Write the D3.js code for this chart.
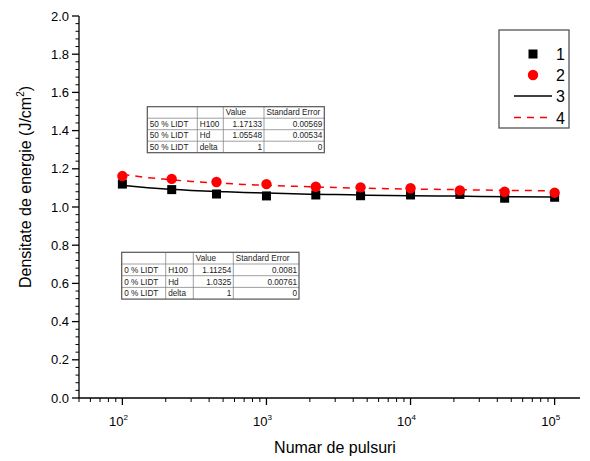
<!DOCTYPE html>
<html><head><meta charset="utf-8">
<script src="https://cdn.jsdelivr.net/npm/d3@7"></script>
<style>body{margin:0;background:#fff;} svg{display:block;font-family:Arial,"Liberation Sans",sans-serif;}</style>
</head><body><svg id="c" width="590" height="461"></svg>
<script>
// ---- data ----
const pulses = [100, 220, 450, 1000, 2200, 4500, 10000, 22000, 45000, 100000];
const series1 = [1.120, 1.091, 1.068, 1.058, 1.063, 1.059, 1.063, 1.066, 1.046, 1.051];
const series2 = [1.162, 1.147, 1.131, 1.120, 1.106, 1.103, 1.098, 1.087, 1.080, 1.075];
const fitN   = [100, 150, 200, 300, 500, 700, 1000, 2000, 3000, 5000, 10000, 20000, 50000, 100000];
const fit3   = [1.113, 1.101, 1.094, 1.087, 1.080, 1.076, 1.073, 1.067, 1.065, 1.062, 1.059, 1.057, 1.054, 1.053];
const fit4   = [1.171, 1.154, 1.145, 1.134, 1.124, 1.118, 1.113, 1.106, 1.102, 1.098, 1.094, 1.091, 1.087, 1.085];
const yTicks = [0, 0.2, 0.4, 0.6, 0.8, 1.0, 1.2, 1.4, 1.6, 1.8, 2.0];
const xTicks = [100, 1000, 10000, 100000];
const legendLabels = ["1", "2", "3", "4"];
const tableHeader = ["", "", "Value", "Standard Error"];
const table1Rows = [["50 % LIDT","H100","1.17133","0.00569"],["50 % LIDT","Hd","1.05548","0.00534"],["50 % LIDT","delta","1","0"]];
const table2Rows = [["0 % LIDT","H100","1.11254","0.0081"],["0 % LIDT","Hd","1.0325","0.00761"],["0 % LIDT","delta","1","0"]];

// ---- layout ----
const svg = d3.select("#c");
const pL = 79, pR = 580, pT = 16, pB = 398;
const x = d3.scaleLog().domain([50, 150000]).range([pL, pR]);
const y = d3.scaleLinear().domain([0, 2]).range([pB, pT]);

// minor ticks
const xMinor = [];
for (let d = 10; d <= 100000; d *= 10) for (let k = 2; k <= 9; k++) { const v = d * k; if (v >= 50 && v <= 150000) xMinor.push(v); }
const yMinor = d3.range(0, 2.0001, 0.04).filter(v => Math.abs(v*5 - Math.round(v*5)) > 1e-6);

const gx = svg.append("g").attr("transform", `translate(0,${pB})`);
gx.append("line").attr("x1", pL).attr("x2", pR).attr("stroke", "#000").attr("stroke-width", 1.3);
gx.selectAll(".mn").data(xMinor).join("line").attr("x1", d => x(d)).attr("x2", d => x(d)).attr("y1", 0).attr("y2", 4).attr("stroke", "#000").attr("stroke-width", 1);
gx.selectAll(".mj").data(xTicks).join("line").attr("x1", d => x(d)).attr("x2", d => x(d)).attr("y1", 0).attr("y2", 7).attr("stroke", "#000").attr("stroke-width", 1.3);
const xl = gx.selectAll(".xl").data(xTicks).join("text").attr("x", d => x(d) - 4).attr("y", 28).attr("text-anchor", "middle").attr("font-size", 13).attr("fill", "#000");
xl.append("tspan").text("10");
xl.append("tspan").attr("dy", -6).attr("font-size", 8).text(d => Math.round(Math.log10(d)));

const gy = svg.append("g");
gy.append("line").attr("x1", pL).attr("x2", pL).attr("y1", pT).attr("y2", pB).attr("stroke", "#000").attr("stroke-width", 1.3);
gy.selectAll(".mn").data(yMinor).join("line").attr("x1", pL - 3.5).attr("x2", pL).attr("y1", d => y(d)).attr("y2", d => y(d)).attr("stroke", "#000").attr("stroke-width", 1);
gy.selectAll(".mj").data(yTicks).join("line").attr("x1", pL - 7).attr("x2", pL).attr("y1", d => y(d)).attr("y2", d => y(d)).attr("stroke", "#000").attr("stroke-width", 1.3);
gy.selectAll(".yl").data(yTicks).join("text").attr("x", pL - 10).attr("y", d => y(d) + 4.5).attr("text-anchor", "end").attr("font-size", 13).attr("fill", "#000").text(d3.format(".1f"));

// axis titles
svg.append("text").attr("x", 335).attr("y", 453).attr("text-anchor", "middle").attr("font-size", 16).text("Numar de pulsuri");
const yt = svg.append("text").attr("transform", "translate(31,187) rotate(-90)").attr("text-anchor", "middle").attr("font-size", 16);
yt.append("tspan").text("Densitate de energie (J/cm");
yt.append("tspan").attr("dy", -7).attr("font-size", 10).text("2");
yt.append("tspan").attr("dy", 7).text(")");

// fit lines
const line = d3.line().x(d => x(d[0])).y(d => y(d[1])).curve(d3.curveMonotoneX);
svg.append("path").attr("d", line(fitN.map((n, i) => [n, fit3[i]]))).attr("fill", "none").attr("stroke", "#000").attr("stroke-width", 1.5);
svg.append("path").attr("d", line(fitN.map((n, i) => [n, fit4[i]]))).attr("fill", "none").attr("stroke", "#ff0000").attr("stroke-width", 1.5).attr("stroke-dasharray", "7,6");

// points
svg.selectAll(".sq").data(pulses).join("rect").attr("x", (d) => x(d) - 4.5).attr("y", (d, i) => y(series1[i]) - 4.5).attr("width", 9).attr("height", 9).attr("fill", "#000");
svg.selectAll(".ci").data(pulses).join("circle").attr("cx", d => x(d)).attr("cy", (d, i) => y(series2[i])).attr("r", 5.2).attr("fill", "#ff0000");

// legend
const lg = svg.append("g");
lg.append("rect").attr("x", 499).attr("y", 30).attr("width", 70).attr("height", 98).attr("fill", "#fff").attr("stroke", "#555").attr("stroke-width", 1.3);
lg.append("rect").attr("x", 528.5).attr("y", 49.5).attr("width", 9).attr("height", 9).attr("fill", "#000");
lg.append("circle").attr("cx", 533).attr("cy", 75).attr("r", 5.2).attr("fill", "#ff0000");
lg.append("line").attr("x1", 514).attr("x2", 552).attr("y1", 96).attr("y2", 96).attr("stroke", "#000").attr("stroke-width", 1.5);
lg.append("line").attr("x1", 514).attr("x2", 552).attr("y1", 117.5).attr("y2", 117.5).attr("stroke", "#ff0000").attr("stroke-width", 1.5).attr("stroke-dasharray", "7,6");
lg.selectAll(".lt").data(legendLabels).join("text").attr("x", 556).attr("y", (d, i) => 60 + i * 21.2).attr("font-size", 16).text(d => d);

// parameter tables
function drawTable(x0, y0, colW, rowH, rows) {
  const g = svg.append("g");
  const all = [tableHeader].concat(rows);
  const W = d3.sum(colW), H = rowH * all.length;
  g.append("rect").attr("x", x0).attr("y", y0).attr("width", W).attr("height", H).attr("fill", "#fff");
  let cx = x0;
  const cols = colW.map(w => { const c = cx; cx += w; return c; });
  for (let r = 1; r < all.length; r++) g.append("line").attr("x1", x0).attr("x2", x0 + W).attr("y1", y0 + r * rowH).attr("y2", y0 + r * rowH).attr("stroke", "#888").attr("stroke-width", 0.8);
  for (let c = 1; c < cols.length; c++) g.append("line").attr("x1", cols[c]).attr("x2", cols[c]).attr("y1", y0).attr("y2", y0 + H).attr("stroke", "#888").attr("stroke-width", 0.8);
  g.append("rect").attr("x", x0).attr("y", y0).attr("width", W).attr("height", H).attr("fill", "none").attr("stroke", "#555").attr("stroke-width", 1.2);
  all.forEach((row, r) => row.forEach((t, c) => {
    const rightAlign = r > 0 && c >= 2;
    g.append("text").attr("x", rightAlign ? cols[c] + colW[c] - 2 : cols[c] + 2.5).attr("y", y0 + r * rowH + rowH - 2.8)
      .attr("text-anchor", rightAlign ? "end" : "start").attr("font-size", 8.2).attr("fill", "#222").text(t);
  }));
}
drawTable(147.3, 106.7, [50, 26, 40.7, 60.3], 11.5, table1Rows);
drawTable(121.7, 252.3, [44, 27.6, 40, 65.7], 11.7, table2Rows);
</script></body></html>
